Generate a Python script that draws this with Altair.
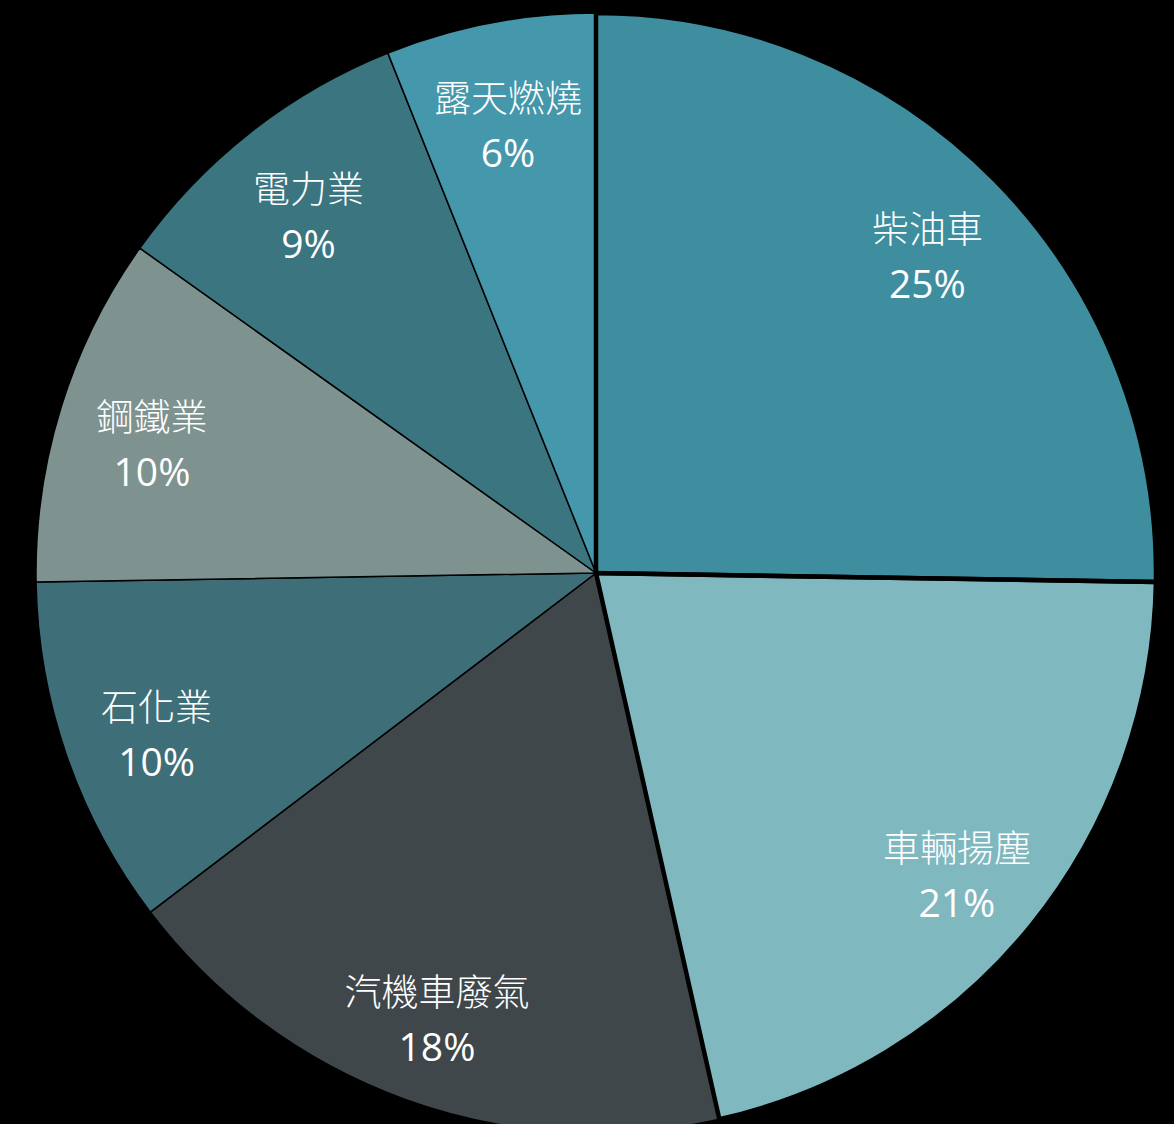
import altair as alt
import pandas as pd

# Sources of fine particulate pollution (share, %)
sources = ["柴油車", "車輛揚塵", "汽機車廢氣", "石化業", "鋼鐵業", "電力業", "露天燃燒"]
shares = [25, 21, 18, 10, 10, 9, 6]
colors = ["#3f8ea0", "#80b8bf", "#3f474b", "#3e6f78", "#7e9290", "#3a7580", "#4597ab"]
# slices whose borders are drawn heavier
heavy = ["柴油車", "車輛揚塵"]

df = pd.DataFrame({
    "source": sources,
    "share": shares,
    "order": list(range(len(sources))),
    "label": [f"{v}%" for v in shares],
})

CX, CY, R = 596, 573, 560
LABEL_R = 465

# one full turn covers the total of all shares
theta_scale = alt.Scale(domain=[0, sum(shares)])

base = (
    alt.Chart(df)
    .transform_window(cum="sum(share)", sort=[alt.SortField("order")], frame=[None, 0])
    .transform_calculate(start="datum.cum - datum.share",
                         mid="datum.cum - datum.share / 2")
    .encode(x=alt.value(CX), y=alt.value(CY))
)

pie = base.mark_arc(radius=R, stroke="black", strokeWidth=1.5).encode(
    theta=alt.Theta("start:Q", scale=theta_scale),
    theta2="cum:Q",
    color=alt.Color("source:N", scale=alt.Scale(domain=sources, range=colors), legend=None),
)

outline = (
    base.transform_filter(alt.FieldOneOfPredicate(field="source", oneOf=heavy))
    .mark_arc(radius=R, stroke="black", strokeWidth=4.5, fillOpacity=0, fill="black")
    .encode(theta=alt.Theta("start:Q", scale=theta_scale), theta2="cum:Q")
)

names = base.mark_text(
    radius=LABEL_R, dy=-15, fontSize=37, color="white",
    font="Noto Sans CJK TC", fontWeight=300,
).encode(theta=alt.Theta("mid:Q", scale=theta_scale), text="source:N")

pcts = base.mark_text(
    radius=LABEL_R, dy=39, fontSize=39, color="white",
    font="Open Sans",
).encode(theta=alt.Theta("mid:Q", scale=theta_scale), text="label:N")

chart = (
    alt.layer(pie, outline, names, pcts)
    .properties(width=1174, height=1124, background="black", padding=0,
                autosize=alt.AutoSizeParams(type="none"))
    .configure_view(stroke=None)
)

chart.save("out.html", embed_options={"renderer": "svg", "actions": False})
